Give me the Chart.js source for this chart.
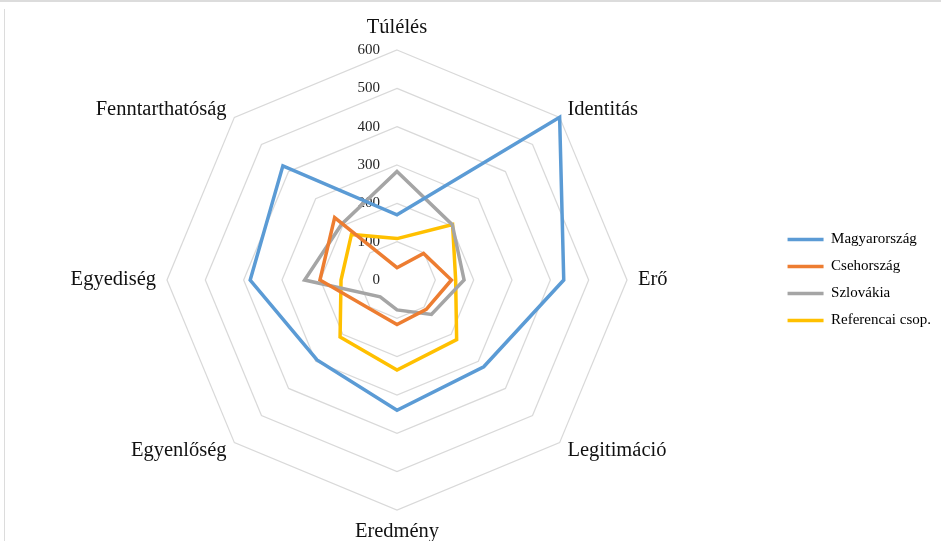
<!DOCTYPE html>
<html lang="hu">
<head>
<meta charset="UTF-8">
<title>Radar chart</title>
<script src="https://cdn.jsdelivr.net/npm/chart.js"></script>
<style>
  html, body { margin: 0; padding: 0; background: #fff; }
  #wrap { width: 941px; height: 541px; }
</style>
</head>
<body>
<div id="wrap"><canvas id="radarChart" width="941" height="541"></canvas></div>
<script>
// axes of the radar
var categories = ['Túlélés', 'Identitás', 'Erő', 'Legitimáció', 'Eredmény', 'Egyenlőség', 'Egyediség', 'Fenntarthatóság'];

// series values
var magyarorszag = [170, 600, 435, 320, 340, 295, 383, 421];
var csehorszag   = [32, 98, 142, 108, 116, 104, 201, 230];
var szlovakia    = [283, 204, 175, 127, 78, 62, 241, 205];
var referencia   = [108, 205, 153, 220, 235, 210, 146, 168];

var seriesNames = ['Magyarország', 'Csehország', 'Szlovákia', 'Referencai csop.'];
var seriesColors = ['#5B9BD5', '#ED7D31', '#A5A5A5', '#FFC000'];

// radial tick labels
var tickValues = [0, 100, 200, 300, 400, 500, 600];

// light frame of the original picture + Excel-like tick labels left of the axis
var framePlugin = {
    id: 'frame',
    beforeDraw: function (chart) {
        var ctx = chart.ctx;
        ctx.save();
        ctx.fillStyle = '#fff';
        ctx.fillRect(0, 0, chart.width, chart.height);
        ctx.fillStyle = '#dcdcdc';
        ctx.fillRect(0, 0, chart.width, 2);
        ctx.fillRect(4, 9, 1, chart.height - 9);
        ctx.restore();
    },
    beforeDatasetsDraw: function (chart) {
        var r = chart.scales.r;
        var ctx = chart.ctx;
        ctx.save();
        ctx.font = '15px "Liberation Serif"';
        ctx.fillStyle = '#262626';
        ctx.textAlign = 'right';
        ctx.textBaseline = 'middle';
        tickValues.forEach(function (v) {
            var y = r.yCenter - r.getDistanceFromCenterForValue(v);
            ctx.fillText(String(v), r.xCenter - 17, y);
        });
        ctx.restore();
    }
};

var allSeries = [magyarorszag, csehorszag, szlovakia, referencia];
var datasets = allSeries.map(function (values, i) {
    return {
        label: seriesNames[i],
        data: values,
        borderColor: seriesColors[i],
        backgroundColor: seriesColors[i],
        borderWidth: 3.5,
        fill: false,
        pointRadius: 0,
        tension: 0
    };
});

var ctx = document.getElementById('radarChart').getContext('2d');
var radarChart = new Chart(ctx, {
    type: 'radar',
    data: {
        labels: categories,
        datasets: datasets
    },
    options: {
        responsive: false,
        animation: false,
        layout: {
            padding: { left: 20, top: 28, bottom: 9, right: 0 }
        },
        plugins: {
            legend: {
                position: 'right',
                labels: {
                    usePointStyle: true,
                    pointStyle: 'line',
                    pointStyleWidth: 36,
                    padding: 12,
                    color: '#000',
                    font: { family: 'Liberation Serif', size: 15 }
                }
            },
            tooltip: { enabled: false }
        },
        scales: {
            r: {
                min: 0,
                max: 600,
                ticks: { stepSize: 100, display: false },
                angleLines: { display: false },
                grid: { color: '#d9d9d9', lineWidth: 1.25 },
                pointLabels: {
                    color: '#111',
                    // labels are vertically centred on their anchor, as in Excel
                    padding: function (c) {
                        return (c.index === 0 || c.index === 4) ? 22 : 11;
                    },
                    font: { family: 'Liberation Serif', size: 20.5, lineHeight: 0 }
                }
            }
        }
    },
    plugins: [framePlugin]
});
</script>
</body>
</html>
